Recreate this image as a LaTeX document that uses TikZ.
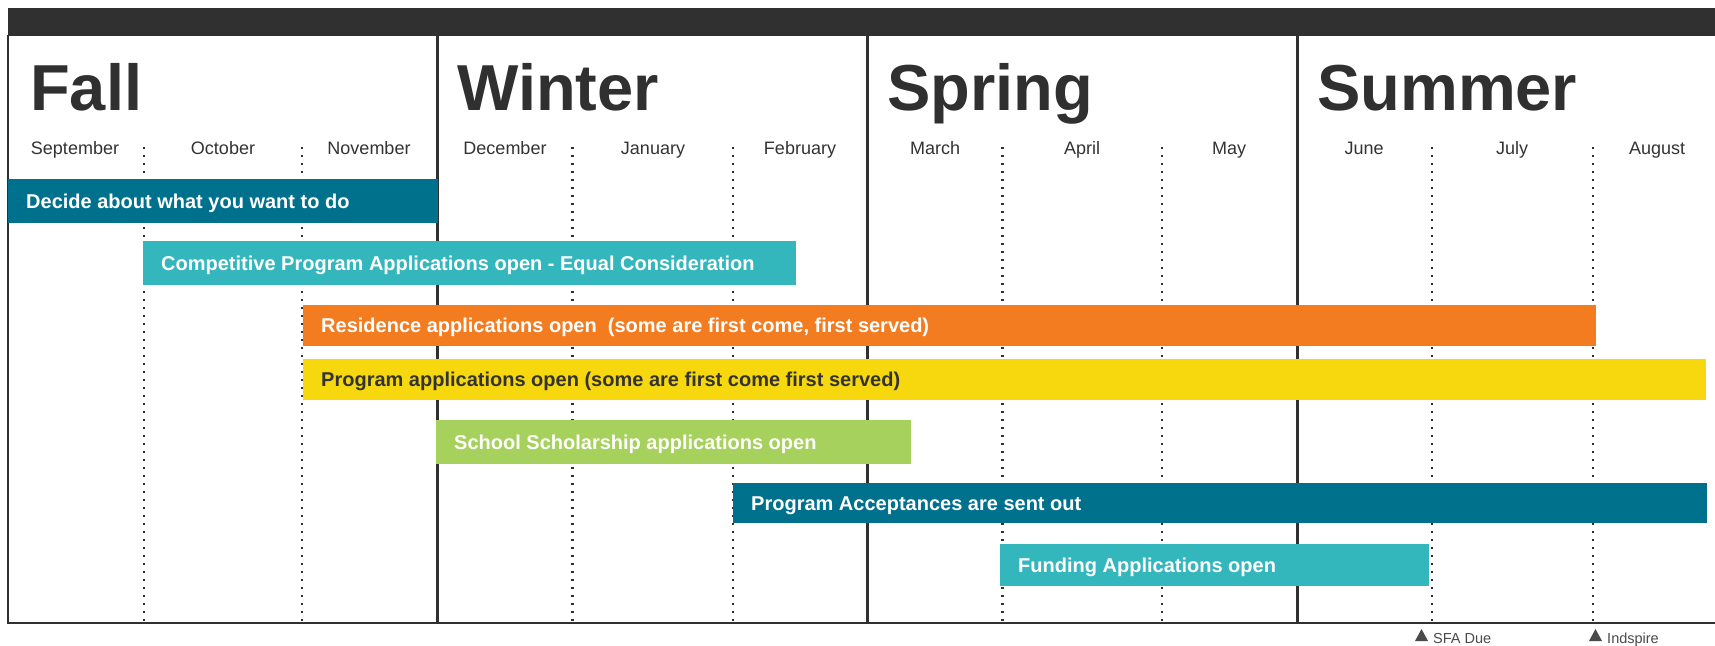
\documentclass[tikz,border=0pt]{standalone}
\usepackage{fontspec}
\setmainfont{Liberation Sans}
\definecolor{ink}{HTML}{303030}
\definecolor{tealdark}{HTML}{00718C}
\definecolor{teallight}{HTML}{33B7BD}
\definecolor{orangebar}{HTML}{F47C20}
\definecolor{yellowbar}{HTML}{F7D80F}
\definecolor{greenbar}{HTML}{A6D15C}
\definecolor{txtdark}{HTML}{333333}
\definecolor{markgray}{HTML}{4A4A4A}
\newcommand\tlbar[8]{%
  \fill[#6] (#2,#3) rectangle (#4,#5);
  \node[bartext, text=#7] (#1) at ({#2+18},{(#3+#5)/2+7}) {#8};}
\begin{document}
\begin{tikzpicture}[x=1pt,y=-1pt,
  frame/.style={draw=ink, line width=2.5pt},
  monthdots/.style={draw=ink, line width=2.2pt, dash pattern=on 2.2pt off 5.8pt},
  season/.style={anchor=base west, inner sep=0pt, text=ink, font=\fontsize{65}{65}\selectfont\bfseries},
  month/.style={anchor=base, inner sep=0pt, text=txtdark, font=\fontsize{18}{18}\selectfont},
  bartext/.style={anchor=base west, inner sep=0pt, font=\fontsize{20}{20}\selectfont\bfseries},
  note/.style={anchor=base west, inner sep=0pt, text=markgray, font=\fontsize{14.5}{14.5}\selectfont},
  marker/.style={fill=markgray},
]
\useasboundingbox (0,0) rectangle (1715,645);
\fill[white] (0,0) rectangle (1715,645);

% top bar
\fill[ink] (8,8) rectangle (1715,35.5);

% month dotted lines
\foreach \mx in {144,302,572.5,733,1002.5,1162,1432,1593}
  \draw[monthdots] (\mx,147) -- (\mx,623);

% frame and season dividers
\draw[frame] (8,35) -- (8,623) -- (1715,623);
\foreach \sx in {437.5,867.3,1297.3}
  \draw[frame] (\sx,35) -- (\sx,623);

% season titles
\node[season] (fall) at (30,110) {Fall};
\node[season] (winter) at (457,110) {Winter};
\node[season] (spring) at (887,110) {Spring};
\node[season] (summer) at (1317,110) {Summer};

% months
\node[month] (sep) at (75,154) {September};
\node[month] (oct) at (223,154) {October};
\node[month] (nov) at (369,154) {November};
\node[month] (dec) at (505,154) {December};
\node[month] (jan) at (653,154) {January};
\node[month] (feb) at (800,154) {February};
\node[month] (mar) at (935,154) {March};
\node[month] (apr) at (1082,154) {April};
\node[month] (may) at (1229,154) {May};
\node[month] (jun) at (1364,154) {June};
\node[month] (jul) at (1512,154) {July};
\node[month] (aug) at (1657,154) {August};

% bars
\tlbar{decide}{8}{179}{437.5}{223}{tealdark}{white}{Decide about what you want to do}
\tlbar{competitive}{143}{241}{796}{285}{teallight}{white}{Competitive Program Applications open - Equal Consideration}
\tlbar{residence}{303}{305}{1596}{346}{orangebar}{white}{Residence applications open\ \ (some are first come, first served)}
\tlbar{program}{303}{359}{1706}{400}{yellowbar}{txtdark}{Program applications open (some are first come first served)}
\tlbar{scholarship}{436}{420}{911}{464}{greenbar}{white}{School Scholarship applications open}
\tlbar{acceptances}{733}{483}{1707}{523}{tealdark}{white}{Program Acceptances are sent out}
\tlbar{funding}{1000}{544}{1429}{586}{teallight}{white}{Funding Applications open}

% deadline markers
\fill[marker] (1415,641) -- (1428,641) -- (1421.5,629) -- cycle;
\node[note] (sfa) at (1433,643.5) {SFA Due};
\fill[marker] (1589,641) -- (1602,641) -- (1595.5,629) -- cycle;
\node[note] (indspire) at (1607,643.5) {Indspire};
\end{tikzpicture}
\end{document}
